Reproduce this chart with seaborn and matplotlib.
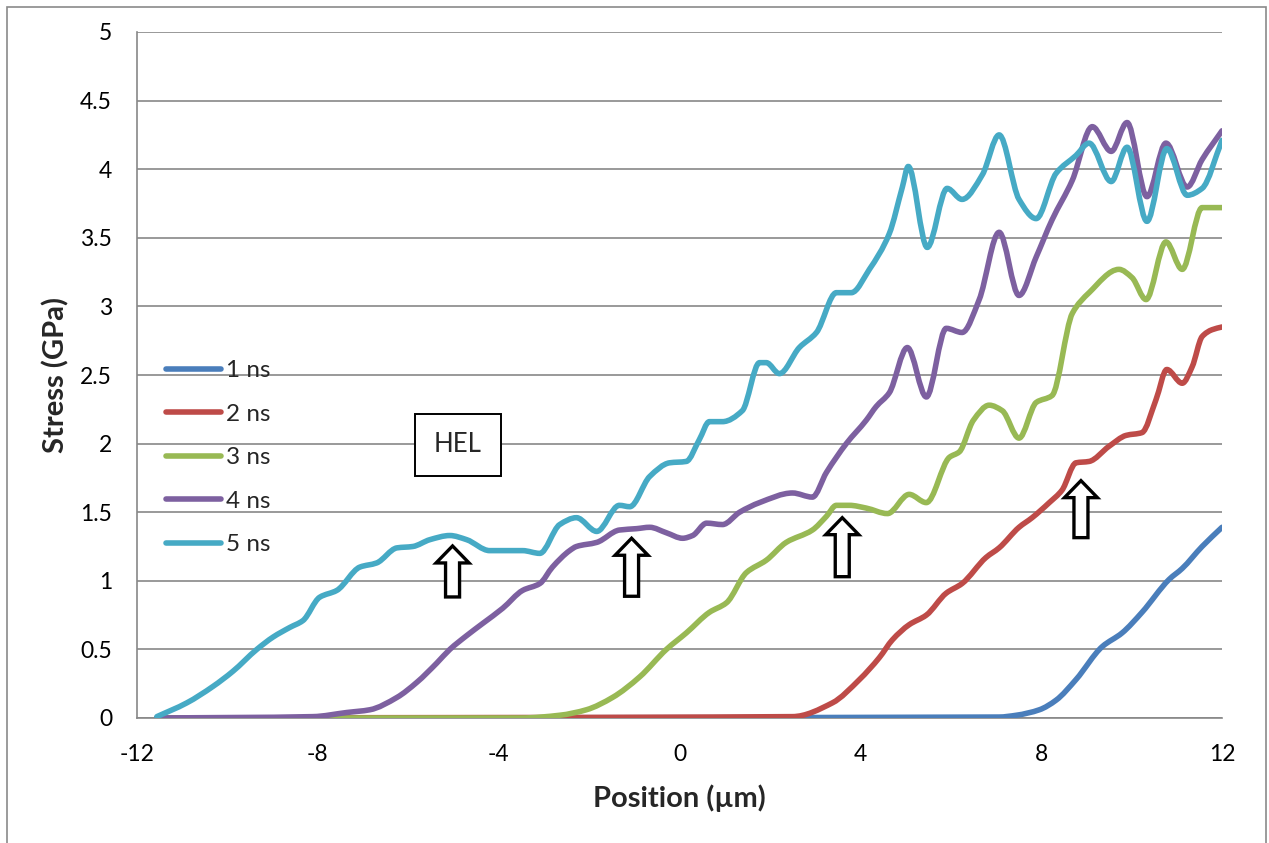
import matplotlib
matplotlib.use("Agg")
import matplotlib.pyplot as plt
import matplotlib.transforms as mtransforms
from matplotlib.patches import Polygon, Rectangle, PathPatch
from matplotlib.path import Path
from matplotlib.lines import Line2D
import numpy as np
import pandas as pd
import seaborn as sns

# ---- stress profiles (position in µm, stress in GPa) ----
x_1ns = [-11.56, 7.07, 7.45, 7.96, 8.33, 8.77, 9.35, 9.79, 10.23, 10.83, 11.12, 11.56, 12.0]
y_1ns = [0.0, 0.007, 0.02, 0.06, 0.13, 0.28, 0.52, 0.62, 0.77, 1.01, 1.09, 1.25, 1.39]

x_2ns = [-11.56, 2.50, 3.38, 3.98, 4.42, 4.71, 5.08, 5.46, 5.90, 6.25, 6.78, 7.07, 7.51,
         7.80, 8.18, 8.46, 8.77, 9.06, 9.50, 9.88, 10.23, 10.54, 10.78, 11.12, 11.34,
         11.56, 11.78, 12.0]
y_2ns = [0.0, 0.01, 0.11, 0.28, 0.44, 0.57, 0.68, 0.75, 0.91, 0.98, 1.17, 1.24, 1.39,
         1.46, 1.57, 1.66, 1.86, 1.87, 1.98, 2.06, 2.08, 2.32, 2.54, 2.44, 2.56,
         2.78, 2.83, 2.85]

x_3ns = [-11.56, -3.50, -2.65, -2.06, -1.48, -0.88, -0.29, 0.15, 0.66, 1.04, 1.48, 1.92,
         2.36, 2.94, 3.25, 3.47, 3.76, 4.13, 4.60, 5.08, 5.46, 5.97, 6.19, 6.50, 6.85,
         7.14, 7.51, 7.89, 8.24, 8.69, 9.06, 9.72, 10.01, 10.32, 10.76, 11.12, 11.56, 12.0]
y_3ns = [0.0, 0.0, 0.02, 0.06, 0.15, 0.30, 0.50, 0.62, 0.77, 0.84, 1.06, 1.15,
         1.28, 1.37, 1.47, 1.55, 1.55, 1.53, 1.49, 1.63, 1.57, 1.90, 1.94, 2.17, 2.28,
         2.24, 2.04, 2.30, 2.35, 2.95, 3.10, 3.27, 3.21, 3.05, 3.47, 3.27, 3.72, 3.72]

x_4ns = [-11.56, -8.11, -7.36, -6.85, -6.25, -5.81, -5.37, -5.08, -4.71, -4.35, -3.91,
         -3.47, -3.09, -2.81, -2.43, -2.28, -1.83, -1.33, -0.95, -0.66, -0.29, 0.07,
         0.29, 0.60, 0.95, 1.33, 1.77, 2.50, 2.94, 3.25, 3.69, 4.13, 4.35, 4.64, 5.04,
         5.46, 5.90, 6.25, 6.63, 7.07, 7.51, 7.89, 8.24, 8.69, 9.13, 9.55, 9.90, 10.34,
         10.76, 11.23, 11.56, 12.0]
y_4ns = [0.0, 0.01, 0.04, 0.06, 0.15, 0.26, 0.40, 0.50, 0.60, 0.69, 0.80,
         0.93, 0.98, 1.10, 1.22, 1.25, 1.28, 1.37, 1.38, 1.39, 1.35, 1.31,
         1.33, 1.42, 1.41, 1.50, 1.57, 1.64, 1.61, 1.79, 2.00, 2.17, 2.27, 2.37, 2.70,
         2.34, 2.84, 2.81, 3.05, 3.54, 3.08, 3.36, 3.63, 3.92, 4.31, 4.13, 4.34, 3.80,
         4.19, 3.87, 4.07, 4.28]

x_5ns = [-11.56, -10.90, -10.32, -9.88, -9.35, -8.99, -8.62, -8.33, -7.96, -7.58, -7.07,
         -6.70, -6.25, -5.90, -5.52, -5.08, -4.71, -4.20, -3.47, -3.09, -2.65, -2.28,
         -1.83, -1.33, -1.10, -0.66, -0.22, 0.15, 0.44, 0.66, 0.95, 1.39, 1.77, 1.92,
         2.21, 2.65, 3.03, 3.47, 3.80, 4.20, 4.64, 4.93, 5.06, 5.48, 5.92, 6.25, 6.70,
         7.07, 7.51, 7.89, 8.33, 8.77, 9.06, 9.55, 9.90, 10.34, 10.78, 11.23, 11.56, 12.0]
y_5ns = [0.01, 0.11, 0.23, 0.34, 0.50, 0.59, 0.66, 0.71, 0.88, 0.93, 1.10,
         1.13, 1.24, 1.25, 1.30, 1.33, 1.30, 1.22, 1.22, 1.20, 1.41, 1.46,
         1.36, 1.55, 1.54, 1.76, 1.86, 1.87, 2.03, 2.16, 2.16, 2.24, 2.59, 2.59,
         2.51, 2.70, 2.81, 3.10, 3.10, 3.27, 3.53, 3.87, 4.02, 3.43, 3.86, 3.78, 3.96,
         4.25, 3.78, 3.64, 3.97, 4.10, 4.19, 3.91, 4.16, 3.62, 4.15, 3.81, 3.86, 4.21]

series_labels = ["1 ns", "2 ns", "3 ns", "4 ns", "5 ns"]
series_colors = ["#4A7EBB", "#BE4B48", "#98B954", "#7D60A0", "#46AAC5"]

# HEL markers: arrow tip position (µm, GPa) and shaft length in px
arrow_x = [-5.02, -1.06, 3.60, 8.88]
arrow_tip = [1.254, 1.31, 1.46, 1.73]
arrow_len = [51, 58, 59, 57]

xs = [x_1ns, x_2ns, x_3ns, x_4ns, x_5ns]
ys = [y_1ns, y_2ns, y_3ns, y_4ns, y_5ns]
df = pd.concat(
    [pd.DataFrame({"Position": x, "Stress": y, "Time": lab})
     for x, y, lab in zip(xs, ys, series_labels)],
    ignore_index=True,
)


def smooth_path(x, y):
    """Cubic Bezier path through the points (shape-preserving slopes),
    the way spreadsheet 'smoothed lines' are rendered."""
    x = np.asarray(x, float)
    y = np.asarray(y, float)
    h = np.diff(x)
    d = np.diff(y) / h
    m = np.empty_like(y)
    m[0], m[-1] = d[0], d[-1]
    for k in range(1, len(x) - 1):
        if d[k - 1] * d[k] <= 0:
            m[k] = 0.0
        else:
            w1 = 2 * h[k] + h[k - 1]
            w2 = h[k] + 2 * h[k - 1]
            m[k] = (w1 + w2) / (w1 / d[k - 1] + w2 / d[k])
    verts = [(x[0], y[0])]
    codes = [Path.MOVETO]
    for k in range(len(x) - 1):
        verts += [(x[k] + h[k] / 3, y[k] + m[k] * h[k] / 3),
                  (x[k + 1] - h[k] / 3, y[k + 1] - m[k + 1] * h[k] / 3),
                  (x[k + 1], y[k + 1])]
        codes += [Path.CURVE4] * 3
    return Path(verts, codes)


sns.set_style("white")
plt.rcParams["font.family"] = ["Lato", "DejaVu Sans"]
plt.rcParams["axes.unicode_minus"] = False

GRID = "#878787"
LW = 4.0
DPI = 100
fig = plt.figure(figsize=(1269 / DPI, 843 / DPI), dpi=DPI)
ax = fig.add_axes([137 / 1269, 1 - 718 / 843, (1222 - 137) / 1269, (718 - 32) / 843])

sns.lineplot(data=df, x="Position", y="Stress", hue="Time", palette=series_colors,
             hue_order=series_labels, estimator=None, sort=False, legend=False,
             linewidth=LW, ax=ax, zorder=3)

# render each seaborn line as a smoothed curve through its points
for ln in list(ax.lines):
    lx, ly = ln.get_data()
    ax.add_patch(PathPatch(smooth_path(lx, ly), facecolor="none",
                           edgecolor=ln.get_color(), linewidth=LW,
                           joinstyle="round", capstyle="round", zorder=3))
    ln.set_visible(False)

ax.set_xlim(-12, 12)
ax.set_ylim(0, 5)
ax.set_xticks(np.arange(-12, 13, 4))
ax.set_yticks(np.arange(0, 5.01, 0.5))
ax.set_yticklabels([f"{v:g}" for v in np.arange(0, 5.01, 0.5)])

ax.yaxis.grid(True, color=GRID, linewidth=1.2)
ax.xaxis.grid(False)
ax.set_axisbelow(True)
for side in ("top", "right"):
    ax.spines[side].set_visible(False)
for side in ("left", "bottom"):
    ax.spines[side].set_color(GRID)
    ax.spines[side].set_linewidth(1.2)

ax.tick_params(axis="both", which="major", direction="out", length=6, width=1.2,
               color=GRID, labelsize=16.5, labelcolor="black")
ax.tick_params(axis="y", pad=12)
ax.tick_params(axis="x", pad=13)

ax.set_xlabel("Position (µm)", fontsize=21, fontweight="bold")
ax.set_ylabel("Stress (GPa)", fontsize=21, fontweight="bold")
ax.xaxis.set_label_coords(0.5, -0.097)
ax.yaxis.set_label_coords(-0.062, 0.5)

handles = [Line2D([], [], color=c, linewidth=LW, solid_capstyle="round")
           for c in series_colors]
ax.legend(handles, series_labels, loc="upper left",
          bbox_to_anchor=(166 / 1269, 1 - 360 / 843), bbox_transform=fig.transFigure,
          frameon=False, fontsize=17.5, handlelength=2.25, handletextpad=0.2,
          labelspacing=0.93, borderpad=0, borderaxespad=0)

# HEL label box
ax.add_patch(Rectangle((-5.856, 1.764), 1.90, 0.452, fill=True, facecolor="white",
                       edgecolor="black", linewidth=1.4, zorder=4))
ax.text(-4.91, 1.99, "HEL", ha="center", va="center", fontsize=18.5, zorder=5)

# hollow up-arrows marking the elastic limit on each profile
for ax_x, tip, length in zip(arrow_x, arrow_tip, arrow_len):
    hw, sw, hh = 16.5, 7.0, 17.0
    shape = np.array([[0, 0], [hw, -hh], [sw, -hh], [sw, -length], [-sw, -length],
                      [-sw, -hh], [-hw, -hh]]) / DPI
    trans = fig.dpi_scale_trans + mtransforms.ScaledTranslation(ax_x, tip, ax.transData)
    ax.add_patch(Polygon(shape, closed=True, facecolor="white", edgecolor="black",
                         linewidth=2.4, transform=trans, zorder=6, clip_on=False))

# chart frame
fig.add_artist(Rectangle((7 / 1269, -0.02), (1266 - 7) / 1269, 1.02 - 7 / 843,
                         transform=fig.transFigure, fill=False, edgecolor="#8a8a8a",
                         linewidth=1.2))

fig.savefig("out.png", dpi=DPI)
